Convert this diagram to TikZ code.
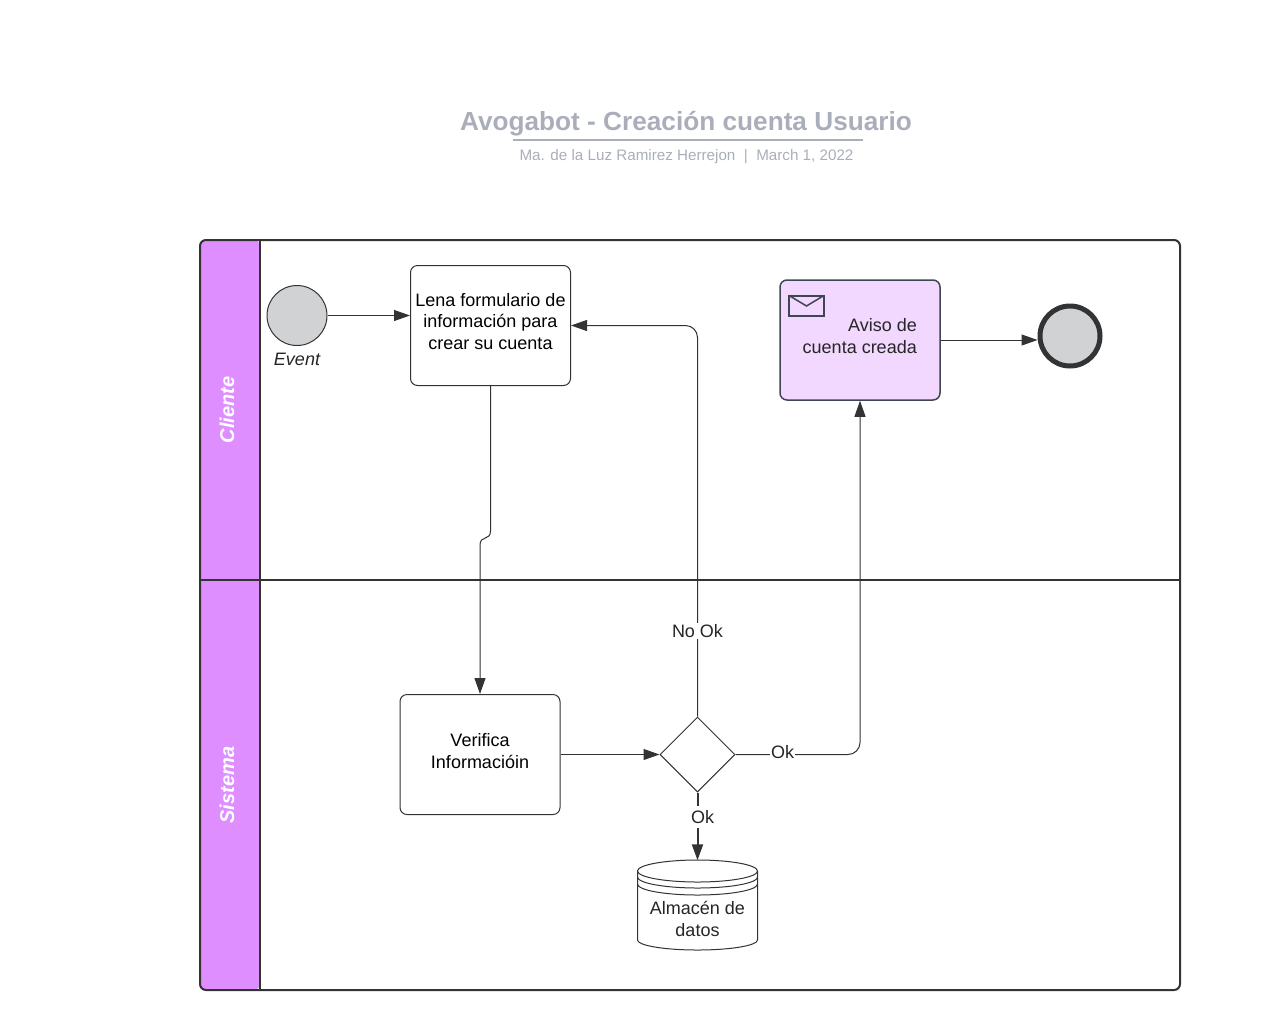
\documentclass[tikz,border=0pt]{standalone}
\usepackage{fontspec}
\setmainfont{Liberation Sans}
\usetikzlibrary{arrows.meta,shapes.geometric,positioning}
\definecolor{linegray}{HTML}{333333}
\definecolor{lanepurple}{HTML}{DF8EFF}
\definecolor{taskpurple}{HTML}{F2D7FE}
\definecolor{slate}{HTML}{3F4652}
\definecolor{eventgray}{HTML}{D1D2D4}
\definecolor{titlegray}{HTML}{A9AEBA}
\tikzset{
	>={Triangle[length=16pt,width=11pt]},
	flow/.style={draw=linegray, line width=1pt, ->},
	flowlabel/.style={fill=white, inner xsep=1pt, inner ysep=1.5pt, font=\fontsize{18}{21.5}\selectfont, text=black!85},
	task/.style={draw=linegray, line width=1pt, fill=white, rounded corners=7pt, minimum width=160pt, minimum height=120pt},
	tasklabel/.style={align=center, inner sep=0pt, font=\fontsize{18}{21.5}\selectfont},
	lanelabel/.style={rotate=90, text=white, font=\fontsize{20}{24}\selectfont\bfseries\itshape},
	startevent/.style={circle, draw=linegray, line width=1pt, fill=eventgray, minimum size=60pt, inner sep=0pt},
	endevent/.style={circle, draw=linegray, line width=5pt, fill=eventgray, minimum size=60pt, inner sep=0pt},
	gateway/.style={diamond, draw=linegray, line width=1pt, fill=white, minimum width=75pt, minimum height=75pt, inner sep=0pt},
}
\begin{document}
\begin{tikzpicture}[x=1pt, y=-1pt]
	\useasboundingbox (0,0) rectangle (1274,1034);
	% title
	\node[text=titlegray, font=\fontsize{26.2}{30}\selectfont\bfseries] (title) at (686,124) {Avogabot - Creación cuenta Usuario};
	\coordinate (ruleleft) at (513,140);
	\coordinate (ruleright) at (863,140);
	\draw[titlegray, line width=1.5pt] (ruleleft) -- (ruleright);
	\node[text=titlegray, font=\fontsize{15.2}{18}\selectfont] (subtitle) at (686.5,157) {Ma. de la Luz Ramirez Herrejon\ \ |\ \ March 1, 2022};
	% lanes
	\fill[lanepurple, rounded corners=6pt] (200,240) -- (260,240) -- (260,990) -- (200,990) -- cycle;
	\draw[linegray, line width=2pt, rounded corners=6pt] (200,240) rectangle (1180,990);
	\draw[linegray, line width=2.5pt] (260,240) -- (260,990);
	\draw[linegray, line width=2.5pt] (200,580) -- (1180,580);
	\node[lanelabel] (cliente) at (227,410) {Cliente};
	\node[lanelabel] (sistema) at (227,785) {Sistema};
	% nodes
	\node[startevent] (start) at (297,315.5) {};
	\node[font=\fontsize{18}{21}\selectfont\itshape, text=black!85] (eventlabel) at (297,359) {Event};
	\node[task] (lena) at (490.5,325.5) {};
	\node[tasklabel] (lenalabel) at (490.5,321.5) {Lena formulario de\\información para\\crear su cuenta};
	\node[task, draw=slate, line width=1.5pt, fill=taskpurple] (aviso) at (860,340) {};
	\node[tasklabel, align=right, anchor=east, text=black!85] (avisolabel) at (917,336) {Aviso de\\cuenta creada};
	\draw[slate, line width=2pt] (789,295.5) rectangle (824,316);
	\draw[slate, line width=1.5pt] (789,295.5) -- (806.5,306) -- (824,295.5);
	\node[endevent] (finish) at (1070,336) {};
	\node[task] (verifica) at (480,754.5) {};
	\node[tasklabel] (verificalabel) at (480,751) {Verifica\\Informacióin};
	\node[gateway] (gate) at (697.5,754.5) {};
	% data store
	\node[minimum width=120pt, minimum height=89pt, inner sep=0pt] (store) at (697.5,905) {};
	\draw[linegray, line width=1pt, fill=white] (637.5,871) arc[start angle=180, end angle=360, x radius=60, y radius=11]
		-- (757.5,940) arc[start angle=0, end angle=180, x radius=60, y radius=10] -- cycle;
	\draw[linegray, line width=1pt] (637.5,871) arc[start angle=180, end angle=0, x radius=60, y radius=11];
	\draw[linegray, line width=1pt] (637.5,877) arc[start angle=180, end angle=0, x radius=60, y radius=11];
	\draw[linegray, line width=1pt] (637.5,884) arc[start angle=180, end angle=0, x radius=60, y radius=11];
	\node[tasklabel, text=black!85] (storelabel) at (697.5,919) {Almacén de\\datos};
	% connectors
	\draw[flow] (start) -- (lena.west |- start);
	\draw[flow] (lena.south) -- (490.5,531) .. controls (490.5,541) and (480,535) .. (480,545) -- (verifica.north);
	\draw[flow] (verifica.east) -- (gate.west);
	\draw[flow, rounded corners=12pt] (gate.north) -- (697.5,325.5) -- (lena.east);
	\draw[flow, rounded corners=12pt] (gate.east) -- (860,754.5) -- (aviso.south);
	\draw[flow] (aviso.east) -- (finish.west |- aviso.east);
	\draw[flow, line width=2pt] (gate.south) -- (store.north);
	\node[flowlabel] (nook) at (697.5,631) {No Ok};
	\node[flowlabel] (okright) at (782.5,752) {Ok};
	\node[flowlabel, inner ysep=4pt] (okdown) at (702.5,817) {Ok};
\end{tikzpicture}
\end{document}
